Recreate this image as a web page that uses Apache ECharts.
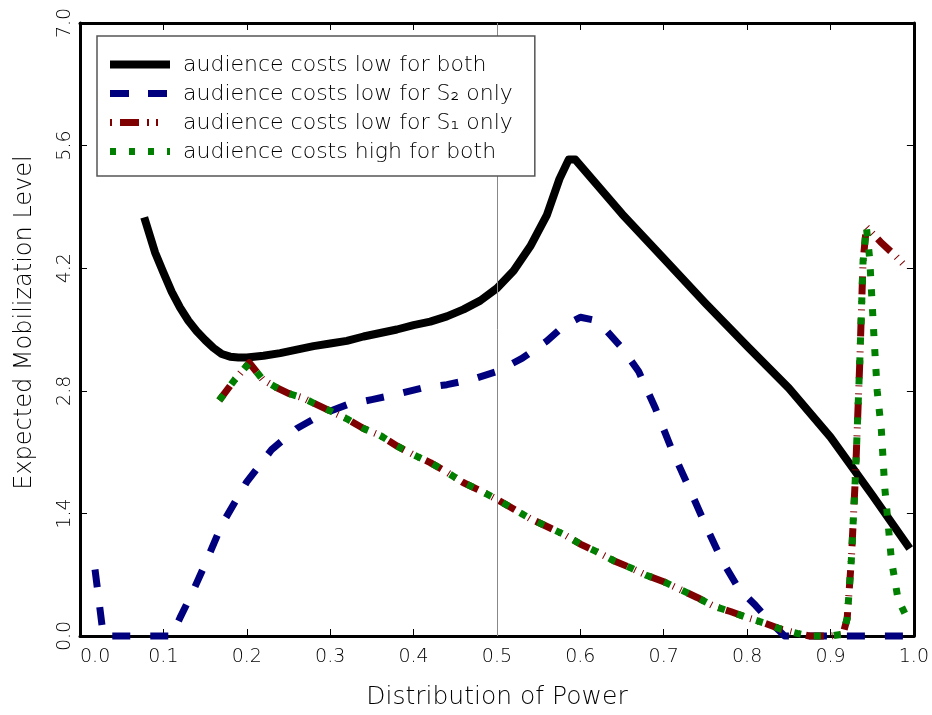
<!DOCTYPE html>
<html><head><meta charset="utf-8">
<script src="https://cdn.jsdelivr.net/npm/echarts@6/dist/echarts.min.js"></script>
<style>html,body{margin:0;padding:0;background:#fff}#c{width:932px;height:715px}</style>
</head><body><div id="c"></div><script>
// ---- data ----
const seriesNames = [
  'audience costs low for both',
  'audience costs low for S\u2082 only',
  'audience costs low for S\u2081 only',
  'audience costs high for both'
];
const xBoth = [0.077,0.09,0.10,0.11,0.12,0.13,0.14,0.15,0.16,0.17,0.18,0.19,0.20,0.22,0.24,0.26,0.28,0.30,0.32,0.34,0.36,0.38,0.40,0.42,0.44,0.46,0.48,0.50,0.52,0.54,0.56,0.575,0.586,0.594,0.65,0.70,0.75,0.80,0.85,0.90,0.95,0.995];
const yBoth = [4.78,4.38,4.15,3.93,3.75,3.60,3.48,3.38,3.29,3.22,3.19,3.18,3.18,3.20,3.23,3.27,3.31,3.34,3.37,3.42,3.46,3.50,3.55,3.59,3.65,3.73,3.83,3.97,4.17,4.45,4.81,5.22,5.44,5.44,4.82,4.31,3.80,3.31,2.83,2.27,1.61,1.00];

const xS2 = [0.018,0.028,0.05,0.08,0.11,0.12,0.135,0.15,0.17,0.20,0.23,0.26,0.29,0.32,0.35,0.38,0.41,0.44,0.47,0.50,0.53,0.56,0.58,0.60,0.615,0.63,0.65,0.67,0.69,0.71,0.73,0.75,0.77,0.79,0.81,0.83,0.845,0.90,0.95,1.0];
const yS2 = [0.76,0,0,0,0,0.21,0.50,0.82,1.27,1.76,2.13,2.37,2.53,2.64,2.70,2.76,2.83,2.87,2.93,3.02,3.17,3.37,3.54,3.64,3.61,3.50,3.29,3.02,2.60,2.12,1.70,1.27,0.86,0.54,0.35,0.14,0,0,0,0];

const xS1 = [0.167,0.185,0.203,0.219,0.235,0.25,0.267,0.28,0.30,0.32,0.34,0.36,0.38,0.40,0.42,0.44,0.46,0.48,0.50,0.52,0.54,0.56,0.58,0.60,0.62,0.64,0.66,0.68,0.70,0.72,0.74,0.76,0.78,0.80,0.82,0.84,0.86,0.875,0.90,0.915,0.92,0.925,0.93,0.935,0.939,0.943,0.96,0.979,0.99];
const yS1 = [2.69,2.92,3.12,2.93,2.84,2.77,2.72,2.66,2.57,2.48,2.37,2.29,2.17,2.07,1.98,1.87,1.75,1.66,1.56,1.45,1.34,1.25,1.16,1.05,0.96,0.86,0.78,0.69,0.62,0.53,0.44,0.34,0.28,0.21,0.15,0.08,0.03,0,0,0.02,0.20,0.87,1.85,3.10,4.27,4.67,4.50,4.33,4.22];

const xHigh = [0.167,0.185,0.203,0.219,0.235,0.25,0.267,0.28,0.30,0.32,0.34,0.36,0.38,0.40,0.42,0.44,0.46,0.48,0.50,0.52,0.54,0.56,0.58,0.60,0.62,0.64,0.66,0.68,0.70,0.72,0.74,0.76,0.78,0.80,0.82,0.84,0.86,0.875,0.90,0.915,0.92,0.925,0.93,0.935,0.939,0.943,0.947,0.952,0.956,0.961,0.965,0.969,0.973,0.981,0.991];
const yHigh = [2.69,2.92,3.12,2.93,2.84,2.77,2.72,2.66,2.57,2.48,2.37,2.29,2.17,2.07,1.98,1.87,1.75,1.66,1.56,1.45,1.34,1.25,1.16,1.05,0.96,0.86,0.78,0.69,0.62,0.53,0.44,0.34,0.28,0.21,0.15,0.08,0.03,0,0,0.02,0.20,0.87,1.85,3.10,4.27,4.67,4.31,3.44,2.80,2.35,1.70,1.29,0.87,0.42,0.22];

const xTicks = [0.0,0.1,0.2,0.3,0.4,0.5,0.6,0.7,0.8,0.9,1.0];
const yTicks = [0.0,1.4,2.8,4.2,5.6,7.0];
const xTitle = 'Distribution of Power';
const yTitle = 'Expected Mobilization Level';
const refLineX = 0.5;

// ---- build ----
const zip = (xs, ys) => xs.map((x, i) => [x, ys[i]]);
const FONT = 'DejaVu Sans';
const colors = ['#000000', '#00007f', '#7f0000', '#007f00'];
const widths = [8, 7, 7, 7];
const dashes = ['solid', [18, 20], [18, 8, 1, 7, 1, 7], [7, 13]];
const legendDashes = [null, [19, 19], [2, 8, 19, 8, 2, 7, 2, 30], [6, 13]];
const datas = [zip(xBoth, yBoth), zip(xS2, yS2), zip(xS1, yS1), zip(xHigh, yHigh)];

const series = seriesNames.map((n, i) => ({
  name: n, type: 'line', data: datas[i], showSymbol: false, symbol: 'none',
  clip: false, z: 2 + i,
  lineStyle: { color: colors[i], width: widths[i], type: dashes[i], cap: 'butt', join: 'round' },
  itemStyle: { color: colors[i] }
}));
series.push({
  name: 'ref', type: 'line', data: [], z: 10, silent: true,
  markLine: { silent: true, symbol: 'none', label: { show: false },
    lineStyle: { color: '#888', width: 1, type: 'solid' },
    data: [{ xAxis: refLineX }] }
});

// legend layout
const LEG_LEFT = 97, LEG_TOP = 36, PAD_T = 15, PAD_L = 13, ROW_H = 29, ICON_W = 60;
const legendIcons = seriesNames.map((n, i) => {
  const y = LEG_TOP + PAD_T + ROW_H * i + ROW_H / 2 - 1;
  return {
    type: 'line', z: 100, silent: true,
    shape: { x1: LEG_LEFT + PAD_L, y1: y, x2: LEG_LEFT + PAD_L + ICON_W, y2: y },
    style: { stroke: colors[i], lineWidth: widths[i], lineDash: legendDashes[i], lineCap: 'butt' }
  };
});

const tickCommon = { show: true, inside: true, length: 7, lineStyle: { color: '#000', width: 1 } };
const lineCommon = { show: true, onZero: false, lineStyle: { color: '#000', width: 3 } };
const xBase = { type: 'value', min: xTicks[0], max: xTicks[xTicks.length-1], interval: 0.1, splitLine: { show: false } };
const yBase = { type: 'value', min: yTicks[0], max: yTicks[yTicks.length-1], interval: 1.4, splitLine: { show: false } };

const chart = echarts.init(document.getElementById('c'), null, { renderer: 'canvas' });
chart.setOption({
  backgroundColor: '#fff',
  animation: false,
  grid: { left: 80, right: 16, top: 23, bottom: 75, containLabel: false },
  legend: {
    orient: 'vertical', left: LEG_LEFT, top: LEG_TOP,
    padding: [PAD_T, 22, 9, PAD_L],
    backgroundColor: '#fff', borderColor: '#555', borderWidth: 1.5, borderRadius: 0,
    itemWidth: 0, itemHeight: 0, itemGap: 0,
    z: 20,
    icon: 'rect',
    itemStyle: { opacity: 0 },
    lineStyle: { opacity: 0, width: 0 },
    textStyle: { fontFamily: FONT, fontSize: 22, fontWeight: 200, color: '#000', lineHeight: ROW_H, padding: [0, 0, 0, ICON_W + 8] },
    data: seriesNames.slice(),
    selectedMode: false
  },
  graphic: legendIcons,
  xAxis: [
    Object.assign({}, xBase, {
      position: 'bottom', axisLine: lineCommon, axisTick: tickCommon,
      axisLabel: { show: true, margin: 12, fontFamily: FONT, fontSize: 19, fontWeight: 200, color: '#000',
        alignMinLabel: 'left', formatter: v => v.toFixed(1) },
      name: xTitle, nameLocation: 'middle', nameGap: 49,
      nameTextStyle: { fontFamily: FONT, fontSize: 25, fontWeight: 200, color: '#000' }
    }),
    Object.assign({}, xBase, { position: 'top', axisLine: lineCommon, axisTick: tickCommon, axisLabel: { show: false } })
  ],
  yAxis: [
    Object.assign({}, yBase, {
      position: 'left', axisLine: lineCommon, axisTick: tickCommon,
      axisLabel: { show: true, rotate: 90, margin: 5, fontFamily: FONT, fontSize: 19, fontWeight: 200, color: '#000',
        formatter: v => v.toFixed(1) },
      name: yTitle, nameLocation: 'middle', nameGap: 43, nameRotate: 90,
      nameTextStyle: { fontFamily: FONT, fontSize: 24, fontWeight: 200, color: '#000', padding: [0, 0, 0, 14] }
    }),
    Object.assign({}, yBase, { position: 'right', axisLine: lineCommon, axisTick: tickCommon, axisLabel: { show: false } })
  ],
  series: series
});
</script></body></html>
